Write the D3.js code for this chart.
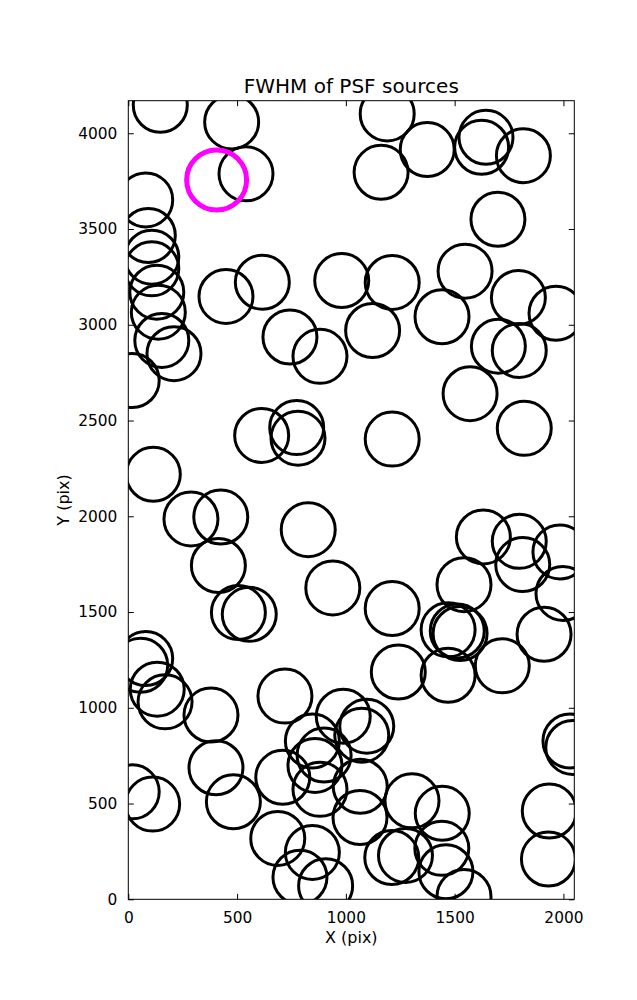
<!DOCTYPE html>
<html>
<head>
<meta charset="utf-8">
<script src="https://cdn.jsdelivr.net/npm/d3@7"></script>
<style>
  html, body { margin: 0; padding: 0; background: #fff; }
  svg { display: block; }
  text { font-family: "DejaVu Sans", sans-serif; fill: #000; }
</style>
</head>
<body>
<div id="chart"></div>
<script>
// ---- data ----
const titleText = "FWHM of PSF sources";
const xLabel = "X (pix)";
const yLabel = "Y (pix)";
const xDomain = [0, 2050];
const yDomain = [0, 4170];
const xTicks = [0, 500, 1000, 1500, 2000];
const yTicks = [0, 500, 1000, 1500, 2000, 2500, 3000, 3500, 4000];

// source positions (pixels on detector)
const srcX = [147, 475, 541, 80, 92, 108, 108, 131, 138, 154, 210, 18, 449, 616, 743, 881,
  1190, 1374, 1644, 1624, 1816, 1162, 1699, 981, 1213, 1548, 1123, 1442, 1793, 1966, 1701, 1797,
  613, 774, 780, 115, 288, 425, 414, 827, 940, 506, 556, 1571, 1820, 1213, 1632, 1797, 1813, 1984,
  1543, 1213, 1998, 1911, 1470, 1512, 1525, 80, 57, 133, 169, 380, 720, 18, 112, 403, 483, 710,
  687, 846, 789, 907, 1241, 988, 1096, 1073, 846, 900, 858, 881, 1066, 1065, 1304, 1211, 1274,
  1470, 1719, 2030, 2043, 1935, 1931, 1443, 1441, 1460, 1543];
const srcY = [4146, 4059, 3788, 3652, 3466, 3353, 3292, 3170, 3066, 2918, 2849, 2709, 3148, 3222, 2936, 2835,
  4101, 3915, 3979, 3927, 3883, 3796, 3551, 3231, 3221, 3280, 2970, 3042, 3142, 3060, 2888, 2866,
  2422, 2463, 2408, 2219, 1986, 1996, 1743, 1930, 1626, 1497, 1488, 2640, 2459, 2403, 1892, 1869, 1748, 1814,
  1643, 1518, 1597, 1384, 1407, 1401, 1388, 1257, 1222, 1097, 1031, 962, 1061, 561, 497, 687, 509, 637,
  318, 245, 115, 71, 1187, 956, 904, 857, 827, 753, 699, 574, 590, 427, 514, 218, 229,
  1170, 1219, 827, 793, 461, 210, 449, 266, 144, 14];

// highlighted source
const hiX = [406];
const hiY = [3756];

// ---- layout ----
const W = 637, H = 1000;
const margin = { left: 128.3, top: 100.7, right: W - 574.3, bottom: H - 899.3 };
const iw = W - margin.left - margin.right;
const ih = H - margin.top - margin.bottom;

const svg = d3.select("#chart").append("svg")
  .attr("width", W).attr("height", H);

const x = d3.scaleLinear().domain(xDomain).range([0, iw]);
const y = d3.scaleLinear().domain(yDomain).range([ih, 0]);

const g = svg.append("g").attr("transform", `translate(${margin.left},${margin.top})`);

g.append("clipPath").attr("id", "clip")
  .append("rect").attr("width", iw).attr("height", ih);

const plot = g.append("g").attr("clip-path", "url(#clip)");

const pts = srcX.map((v, i) => ({ x: v, y: srcY[i] }));
plot.selectAll("circle.src").data(pts).enter().append("circle")
  .attr("class", "src")
  .attr("cx", d => x(d.x)).attr("cy", d => y(d.y))
  .attr("r", 27)
  .attr("fill", "none").attr("stroke", "#000").attr("stroke-width", 3);

const hi = hiX.map((v, i) => ({ x: v, y: hiY[i] }));
plot.selectAll("circle.hi").data(hi).enter().append("circle")
  .attr("class", "hi")
  .attr("cx", d => x(d.x)).attr("cy", d => y(d.y))
  .attr("r", 30)
  .attr("fill", "none").attr("stroke", "#ff00ff").attr("stroke-width", 5);

// axes with inward ticks
const tickLen = 5.5;
const fs = "15.4px";
function styleAxis(sel) {
  sel.select(".domain").remove();
  sel.selectAll(".tick line").attr("stroke", "#000").attr("stroke-width", 1);
  sel.selectAll(".tick text").style("font-size", fs).style("font-family", "DejaVu Sans");
}
const xb = g.append("g").attr("transform", `translate(0,${ih})`)
  .call(d3.axisBottom(x).tickValues(xTicks).tickFormat(d3.format("d")).tickSizeInner(-tickLen).tickSizeOuter(0).tickPadding(13));
styleAxis(xb);
const xt = g.append("g")
  .call(d3.axisTop(x).tickValues(xTicks).tickFormat("").tickSizeInner(-tickLen).tickSizeOuter(0));
styleAxis(xt);
const yl = g.append("g")
  .call(d3.axisLeft(y).tickValues(yTicks).tickFormat(d3.format("d")).tickSizeInner(-tickLen).tickSizeOuter(0).tickPadding(11));
styleAxis(yl);
const yr = g.append("g").attr("transform", `translate(${iw},0)`)
  .call(d3.axisRight(y).tickValues(yTicks).tickFormat("").tickSizeInner(-tickLen).tickSizeOuter(0));
styleAxis(yr);

// frame
g.append("rect").attr("width", iw).attr("height", ih)
  .attr("fill", "none").attr("stroke", "#000").attr("stroke-width", 1);

// title & labels
svg.append("text").attr("x", margin.left + iw / 2).attr("y", 93)
  .attr("text-anchor", "middle").style("font-size", "20px").text(titleText);
svg.append("text").attr("x", margin.left + iw / 2).attr("y", 943)
  .attr("text-anchor", "middle").style("font-size", "16px").text(xLabel);
svg.append("text")
  .attr("transform", `translate(69,${margin.top + ih / 2}) rotate(-90)`)
  .attr("text-anchor", "middle").style("font-size", "16px").text(yLabel);
</script>
</body>
</html>
